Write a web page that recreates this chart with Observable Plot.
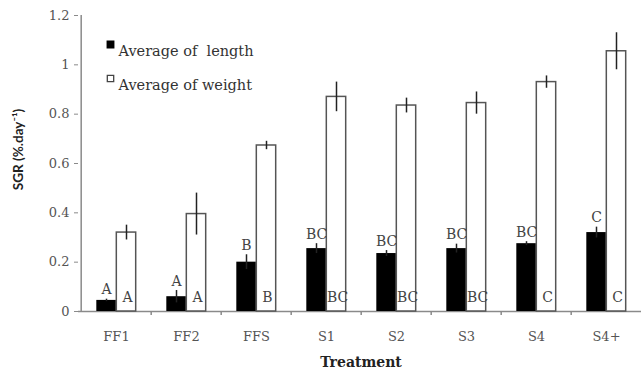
<!DOCTYPE html>
<html>
<head>
<meta charset="utf-8">
<script src="https://cdn.jsdelivr.net/npm/d3@7"></script>
<script src="https://cdn.jsdelivr.net/npm/@observablehq/plot@0.6"></script>
<style>
  html, body { margin: 0; padding: 0; background: #fff; }
  #chart svg { display: block; }
</style>
</head>
<body>
<div id="chart"></div>
<script>
const treatments = ["FF1", "FF2", "FFS", "S1", "S2", "S3", "S4", "S4+"];
const lengthMean = [0.045, 0.06, 0.2, 0.255, 0.235, 0.255, 0.275, 0.32];
const lengthErr = [0.005, 0.025, 0.03, 0.02, 0.012, 0.018, 0.008, 0.022];
const weightMean = [0.32, 0.395, 0.673, 0.87, 0.835, 0.845, 0.93, 1.055];
const weightErr = [0.03, 0.085, 0.017, 0.06, 0.03, 0.045, 0.025, 0.075];
const lengthLetters = ["A", "A", "B", "BC", "BC", "BC", "BC", "C"];
const weightLetters = ["A", "A", "B", "BC", "BC", "BC", "C", "C"];
const yTicks = [0, 0.2, 0.4, 0.6, 0.8, 1, 1.2];
const seriesNames = ["Average of  length", "Average of weight"];

const W = 641, H = 377;
const mL = 78, mR = -2, mT = 15, mB = 66;
const step = (W - mL - mR) / treatments.length;
const barW = 20;

const rows = treatments.map((t, i) => ({
  t, lm: lengthMean[i], le: lengthErr[i], wm: weightMean[i], we: weightErr[i],
  ll: lengthLetters[i], wl: weightLetters[i]
}));

const serif = "DejaVu Serif";
const grey = "#8a8a8a";
const textCol = "#555";

const plot = Plot.plot({
  width: W, height: H,
  marginLeft: mL, marginRight: mR, marginTop: mT, marginBottom: mB,
  style: {fontFamily: serif, fontSize: "13px", color: textCol, background: "#fff"},
  x: {type: "band", domain: treatments, padding: 0},
  y: {domain: [0, 1.2]},
  marks: [
    Plot.ruleY([0], {stroke: grey, strokeWidth: 1.5}),
    Plot.ruleX([treatments[0]], {y1: 0, y2: 1.2, dx: -step / 2, stroke: grey, strokeWidth: 1.5}),
    Plot.ruleX(treatments.slice(1), {y1: 0, y2: 0, insetBottom: -4, dx: -step / 2, stroke: grey, strokeWidth: 1.5}),
    Plot.axisY({ticks: yTicks, tickFormat: d => String(d), tickSize: 4, tickPadding: 5, stroke: grey, fontSize: 13, fontFamily: serif, fill: textCol, label: null}),
    Plot.axisX({tickSize: 0, tickPadding: 20, fontSize: 13, fontFamily: serif, fill: textCol, label: null}),
    Plot.barY(rows, {x: "t", y: "wm", insetLeft: step / 2, insetRight: step / 2 - barW, fill: "white", stroke: "#555", strokeWidth: 1.5}),
    Plot.barY(rows, {x: "t", y: "lm", insetLeft: step / 2 - barW, insetRight: step / 2, fill: "black"}),
    Plot.ruleX(rows, {x: "t", y1: d => d.wm - d.we, y2: d => d.wm + d.we, dx: barW / 2, stroke: "#222", strokeWidth: 1.5}),
    Plot.ruleX(rows, {x: "t", y1: d => d.lm - d.le, y2: d => d.lm + d.le, dx: -barW / 2, stroke: "#222", strokeWidth: 1.5}),
    Plot.text(rows, {x: "t", y: d => d.lm + d.le, text: "ll", dx: -barW / 2, dy: -5, lineAnchor: "bottom", fontSize: 14, fontFamily: serif, fill: "#444"}),
    Plot.text(rows, {x: "t", y: 0, text: "wl", dx: barW / 2 + 1, dy: -10, lineAnchor: "bottom", fontSize: 14, fontFamily: serif, fill: "#444"}),
    // legend
    Plot.dot([seriesNames[0]], {frameAnchor: "top-left", dx: 32, dy: 29, symbol: "square", r: 3.6, fill: "black", stroke: "black"}),
    Plot.dot([seriesNames[1]], {frameAnchor: "top-left", dx: 32, dy: 63, symbol: "square", r: 3.6, fill: "white", stroke: "#444", strokeWidth: 1.3}),
    Plot.text([seriesNames[0]], {frameAnchor: "top-left", text: d => d, dx: 40, dy: 30, textAnchor: "start", fontSize: 14.5, fontFamily: serif, fill: "#333"}),
    Plot.text([seriesNames[1]], {frameAnchor: "top-left", text: d => d, dx: 40, dy: 64, textAnchor: "start", fontSize: 14.5, fontFamily: serif, fill: "#333"}),
    // axis titles
    Plot.text(["SGR (%.day⁻¹)"], {frameAnchor: "left", text: d => d, textAnchor: "middle", dx: -60, dy: -14, rotate: -90, fontWeight: "bold", fontSize: 13.5, fontFamily: "Lato", fill: "#222"}),
    Plot.text(["Treatment"], {frameAnchor: "bottom", text: d => d, dy: 55, fontWeight: "bold", fontSize: 14, fontFamily: serif, fill: "#222"})
  ]
});
document.getElementById("chart").appendChild(plot);
</script>
</body>
</html>
